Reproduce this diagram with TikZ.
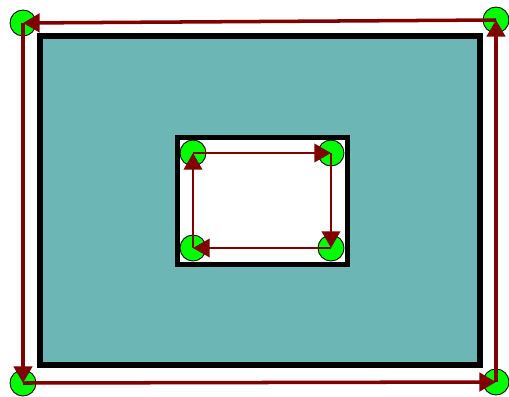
\documentclass[tikz,border=0pt]{standalone}
\usepackage{amsmath}
\usepackage{tikz}
\usetikzlibrary{arrows.meta}

\definecolor{vora}{RGB}{128,0,0}
\definecolor{tramat}{RGB}{108,182,182}
\definecolor{vert}{RGB}{0,255,0}

\tikzset{
  vertex/.style={circle, draw=black, line width=0.5pt, fill=vert, minimum size=0.52cm, inner sep=0pt},
  arestaext/.style={draw=vora, line width=2pt, -{Triangle[length=9.5pt, width=10.5pt]}},
  arestaint/.style={draw=vora, line width=1.3pt, -{Triangle[length=9.5pt, width=10.5pt]}}
}

\begin{document}
\begin{tikzpicture}[x=0.02cm, y=-0.02cm]
        \useasboundingbox (0,0) rectangle (509,396);
        % Rectangles: exterior tramat, interior buit
        \draw[line width=3.4pt, fill=tramat] (40,36) rectangle (480,365);
        \draw[line width=2.8pt, fill=white] (177.5,137.5) rectangle (347.5,264.5);
        % Vertexs exteriors
        \node[vertex] (eTL) at (23,23) {};
        \node[vertex] (eTR) at (496,20) {};
        \node[vertex] (eBR) at (496,382) {};
        \node[vertex] (eBL) at (23,383) {};
        % Vertexs interiors
        \node[vertex] (iTL) at (193,153) {};
        \node[vertex] (iTR) at (331,153) {};
        \node[vertex] (iBR) at (331,248) {};
        \node[vertex] (iBL) at (193,248) {};
        % Contorn exterior
        \draw[arestaext] (eTL.center) -- (eBL.center);
        \draw[arestaext] (eBL.center) -- (eBR.center);
        \draw[arestaext] (eBR.center) -- (eTR.center);
        \draw[arestaext] (eTR.center) -- (eTL.center);
        % Contorn interior
        \draw[arestaint] (iTL.center) -- (iTR.center);
        \draw[arestaint] (iTR.center) -- (iBR.center);
        \draw[arestaint] (iBR.center) -- (iBL.center);
        \draw[arestaint] (iBL.center) -- (iTL.center);
    \end{tikzpicture}
\end{document}
